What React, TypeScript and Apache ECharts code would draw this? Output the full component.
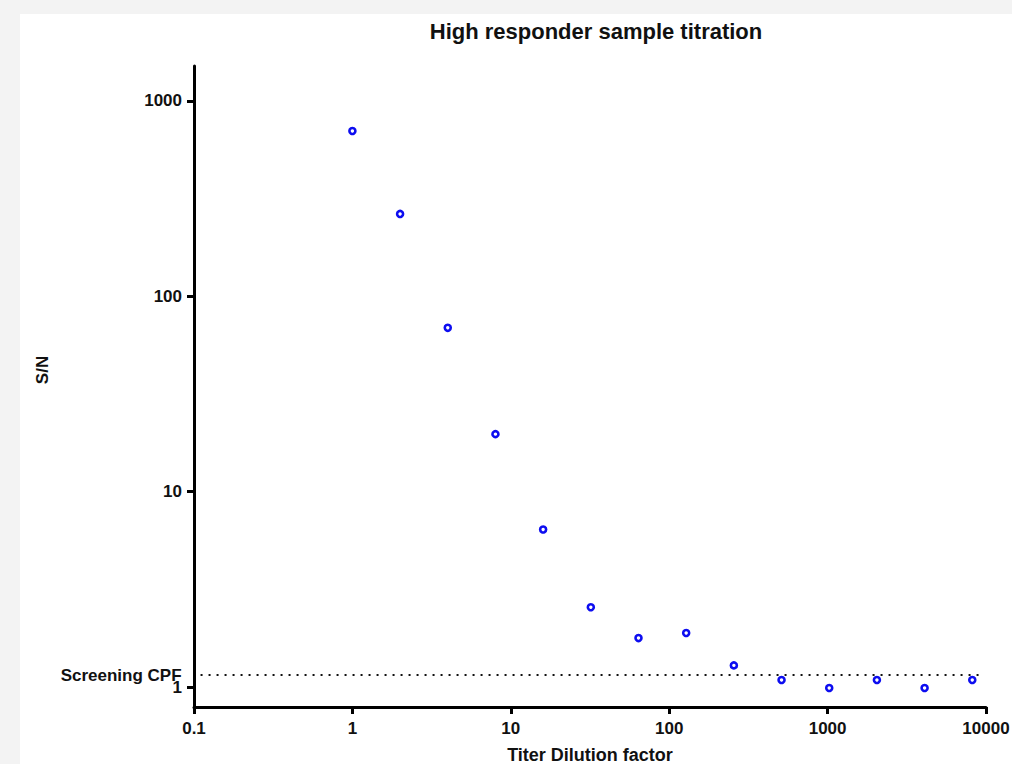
import React, { useEffect, useRef } from "react";
import * as echarts from "echarts";

const dilutions = [1, 2, 4, 8, 16, 32, 64, 128, 256, 512, 1024, 2048, 4096, 8192];
const snValues = [702, 264, 69, 19.7, 6.4, 2.56, 1.78, 1.89, 1.29, 1.086, 0.988, 1.086, 0.988, 1.086];
const xTicks = [0.1, 1, 10, 100, 1000, 10000];
const yTicks = [1, 10, 100, 1000];
const cutpoint = 1.15;
const cutpointLabel = "Screening CPF";
const titleText = "High responder sample titration";
const xName = "Titer Dilution factor";
const yName = "S/N";

const FONT = "'Liberation Sans', Arial, sans-serif";

export default function App() {
  const ref = useRef<HTMLDivElement>(null);
  useEffect(() => {
    if (!ref.current) return;
    const chart = echarts.init(ref.current, null, { renderer: "svg" });
    chart.setOption({
      animation: false,
      backgroundColor: "#f3f3f3",
      title: {
        text: titleText,
        left: 591,
        top: 15,
        textAlign: "center",
        textStyle: { fontFamily: FONT, fontWeight: "bold", fontSize: 22, color: "#111" },
      },
      graphic: [
        {
          type: "rect",
          z: -10,
          silent: true,
          shape: { x: 20, y: 14, width: 1000, height: 760 },
          style: { fill: "#ffffff" },
        },
        {
          type: "text",
          x: 42,
          y: 370,
          rotation: Math.PI / 2,
          style: {
            text: yName,
            align: "center",
            verticalAlign: "middle",
            font: "bold 17px 'Liberation Sans', Arial, sans-serif",
            fill: "#111",
          },
        },
      ],
      grid: { left: 194, right: 26, top: 66, bottom: 57, outerBoundsMode: "none", containLabel: false },
      xAxis: {
        type: "log",
        logBase: 10,
        min: 0.1,
        max: 10000,
        name: xName,
        nameLocation: "middle",
        nameGap: 40,
        nameTextStyle: { fontFamily: FONT, fontWeight: "bold", fontSize: 18, lineHeight: 16, color: "#111" },
        axisLine: { show: true, lineStyle: { color: "#000", width: 3 } },
        axisTick: { show: true, length: 7, lineStyle: { color: "#000", width: 3 }, customValues: xTicks },
        axisLabel: {
          margin: 13,
          fontFamily: FONT,
          fontWeight: "bold",
          fontSize: 17,
          color: "#111",
          customValues: xTicks,
          formatter: (v: number) => String(v),
        },
        minorTick: { show: false },
        splitLine: { show: false },
      },
      yAxis: {
        type: "log",
        logBase: 10,
        min: 0.79,
        max: 1510,
        axisLine: { show: true, lineStyle: { color: "#000", width: 3 } },
        axisTick: { show: true, length: 7, lineStyle: { color: "#000", width: 3 }, customValues: yTicks },
        axisLabel: {
          margin: 12,
          fontFamily: FONT,
          fontWeight: "bold",
          fontSize: 17,
          lineHeight: 11,
          color: "#111",
          customValues: yTicks,
          formatter: (v: number) => String(v),
        },
        splitLine: { show: false },
      },
      series: [
        {
          type: "scatter",
          data: dilutions.map((d, i) => [d, snValues[i]]),
          symbol: "circle",
          symbolSize: 6,
          itemStyle: { color: "#ffffff", borderColor: "#0d0df0", borderWidth: 2.6, opacity: 1 },
          markLine: {
            silent: true,
            symbol: "none",
            lineStyle: { color: "#111", width: 2, type: [2, 6] },
            label: {
              show: true,
              position: "start",
              distance: 19,
              formatter: cutpointLabel,
              fontFamily: FONT,
              fontWeight: "bold",
              fontSize: 17,
              lineHeight: 11,
              color: "#111",
            },
            data: [[{ coord: [0.11, cutpoint] }, { coord: [9450, cutpoint] }]],
          },
        },
      ],
    });
    return () => chart.dispose();
  }, []);
  return (
    <div
      ref={ref}
      style={{ position: "fixed", left: 0, top: 0, width: 1012, height: 764 }}
    />
  );
}
